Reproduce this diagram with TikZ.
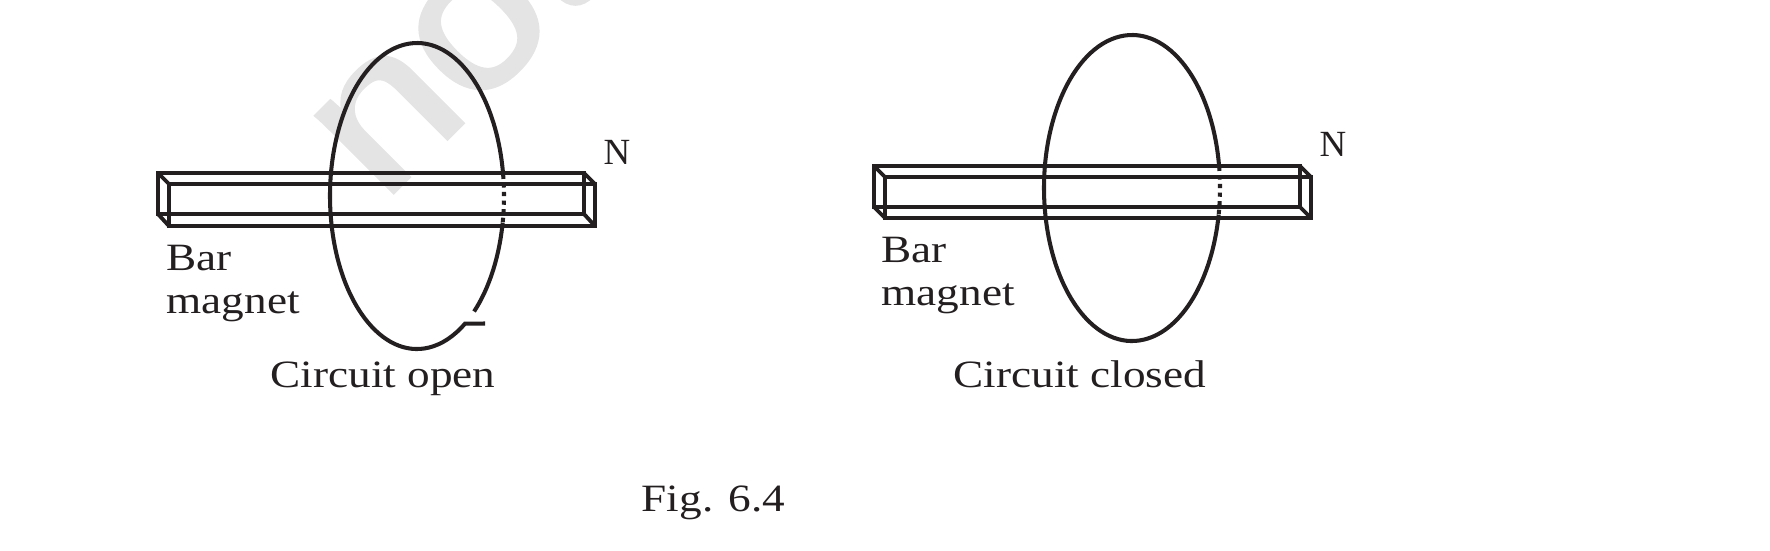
\documentclass[tikz,border=0pt]{standalone}
\usepackage{fontspec}
\usetikzlibrary{calc}
\setmainfont{Liberation Serif}[FakeStretch=1.17]
\newfontfamily\polefont{Liberation Serif}
\newfontfamily\markfont{Liberation Sans}[FakeBold=2.5,FakeStretch=1.12]
\definecolor{ink}{HTML}{231F20}
\definecolor{markgrey}{HTML}{E4E4E4}
\tikzset{
  wire/.style={ink,line width=1.15pt},
  wiredots/.style={ink,line width=1.15pt,dash pattern=on 1.2pt off 1.25pt},
  bar/.style={ink,line width=1.1pt,line join=miter},
  label/.style={ink,font=\fontsize{11}{13}\selectfont,inner sep=0pt,anchor=base west},
  pole/.style={label,font=\polefont\fontsize{10.5}{13}\selectfont},
  stamp/.style={markgrey,font=\markfont\fontsize{58}{60}\selectfont,inner sep=0pt,anchor=base west,rotate=45}
}
\begin{document}
\begin{tikzpicture}
  \useasboundingbox (0, 0) rectangle (17.7, 5.5);
  \clip (0, 0) rectangle (17.7, 5.5);
  \node [stamp] (WM) at (3.82, 3.47) {not};
  % left magnet
  \coordinate (AA) at (1.58, 3.77);
  \coordinate (AB) at (5.84, 3.77);
  \coordinate (AC) at (5.84, 3.36);
  \coordinate (AD) at (1.58, 3.36);
  \coordinate (BA) at (1.69, 3.66);
  \coordinate (BB) at (5.95, 3.66);
  \coordinate (BC) at (5.95, 3.24);
  \coordinate (BD) at (1.69, 3.24);
  \draw [bar] (AA) -- (AB) -- (AC) -- (AD) -- cycle;
  \draw [bar] (BA) -- (BB) -- (BC) -- (BD) -- cycle;
  \draw [bar] (AA) -- (BA);
  \draw [bar] (AB) -- (BB);
  \draw [bar] (AC) -- (BC);
  \draw [bar] (AD) -- (BD);
  % right magnet
  \coordinate (CA) at (8.74, 3.84);
  \coordinate (CB) at (13.00, 3.84);
  \coordinate (CC) at (13.00, 3.43);
  \coordinate (CD) at (8.74, 3.43);
  \coordinate (DA) at (8.85, 3.73);
  \coordinate (DB) at (13.11, 3.73);
  \coordinate (DC) at (13.11, 3.32);
  \coordinate (DD) at (8.85, 3.32);
  \draw [bar] (CA) -- (CB) -- (CC) -- (CD) -- cycle;
  \draw [bar] (DA) -- (DB) -- (DC) -- (DD) -- cycle;
  \draw [bar] (CA) -- (DA);
  \draw [bar] (CB) -- (DB);
  \draw [bar] (CC) -- (DC);
  \draw [bar] (CD) -- (DD);
  % left loop
  \coordinate (LO) at (4.17, 3.54);
  \coordinate (LA) at ($(LO) + (8:0.87 and 1.53)$);
  \coordinate (LB) at ($(LO) + (-10:0.87 and 1.53)$);
  \coordinate (LD) at (4.85, 2.265);
  \draw [wire] (LA) arc [start angle=8, end angle=303.5, x radius=0.87, y radius=1.53] -- (LD);
  \draw [wiredots] (LA) arc [start angle=8, end angle=-10, x radius=0.87, y radius=1.53];
  \draw [wire] (LB) arc [start angle=-10, end angle=-49, x radius=0.87, y radius=1.53];
  % right loop
  \coordinate (RO) at (11.32, 3.62);
  \coordinate (RA) at ($(RO) + (8:0.88 and 1.53)$);
  \draw [wire] (RA) arc [start angle=8, end angle=350, x radius=0.88, y radius=1.53];
  \draw [wiredots] (RA) arc [start angle=8, end angle=-10, x radius=0.88, y radius=1.53];
  % labels
  \node [pole] (NL) at (6.03, 3.86) {N};
  \node [pole] (NR) at (13.19, 3.94) {N};
  \node [label] (BL) at (1.66, 2.80) {Bar};
  \node [label] (ML) at (1.66, 2.37) {magnet};
  \node [label] (BR) at (8.81, 2.88) {Bar};
  \node [label] (MR) at (8.81, 2.45) {magnet};
  \node [label] (OP) at (2.70, 1.63) {Circuit open};
  \node [label] (CL) at (9.53, 1.63) {Circuit closed};
  \node [label] (FG) at (6.41, 0.39) {Fig. 6.4};
\end{tikzpicture}
\end{document}
